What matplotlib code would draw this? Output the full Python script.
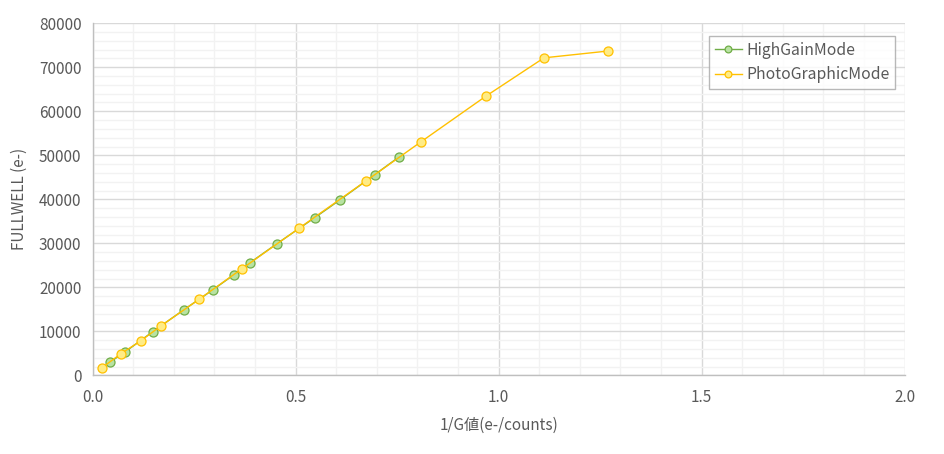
import matplotlib
matplotlib.use("Agg")
import matplotlib.pyplot as plt
from matplotlib.ticker import MultipleLocator, FormatStrFormatter

plt.rcParams['font.family'] = ['Noto Sans CJK JP', 'DejaVu Sans']

high_x = [0.043, 0.080, 0.148, 0.225, 0.296, 0.348, 0.388, 0.454, 0.547, 0.610, 0.695, 0.756]
high_y = [3000, 5300, 9900, 14900, 19400, 22850, 25600, 29900, 35800, 39900, 45600, 49700]
photo_x = [0.023, 0.069, 0.119, 0.168, 0.262, 0.367, 0.509, 0.673, 0.808, 0.969, 1.112, 1.270]
photo_y = [1700, 4850, 7850, 11200, 17250, 24150, 33450, 44150, 53000, 63450, 72150, 73700]
series_names = ["HighGainMode", "PhotoGraphicMode"]

txt = '#595959'
fig = plt.figure(figsize=(9.45, 4.54), dpi=100)
ax = fig.add_axes([0.0979, 0.1733, 0.8593, 0.7754])

ax.plot(high_x, high_y, color='#70ad47', lw=1.0, marker='o', ms=6.5,
        mfc='#b8e2a2', mec='#70ad47', mew=0.9, label=series_names[0], zorder=3)
ax.plot(photo_x, photo_y, color='#ffc000', lw=1.0, marker='o', ms=6.5,
        mfc='#ffec85', mec='#ffc000', mew=0.9, label=series_names[1], zorder=4)

ax.set_xlim(0, 2.0)
ax.set_ylim(0, 80000)
ax.xaxis.set_major_locator(MultipleLocator(0.5))
ax.xaxis.set_minor_locator(MultipleLocator(0.1))
ax.yaxis.set_major_locator(MultipleLocator(10000))
ax.yaxis.set_minor_locator(MultipleLocator(2000))
ax.xaxis.set_major_formatter(FormatStrFormatter('%.1f'))
ax.grid(which='major', color='#d9d9d9', lw=1.0, zorder=1)
ax.grid(which='minor', color='#f2f2f2', lw=1.0, zorder=0)
ax.set_axisbelow(True)
ax.tick_params(which='both', length=0, colors=txt, labelsize=11)
ax.tick_params(axis='x', pad=10)
ax.tick_params(axis='y', pad=8)
for s in ['top', 'right']:
    ax.spines[s].set_visible(False)
for s in ['left', 'bottom']:
    ax.spines[s].set_color('#bfbfbf')
    ax.spines[s].set_linewidth(1.0)

ax.set_xlabel('1/G値(e-/counts)', color=txt, fontsize=11, labelpad=8)
ax.set_ylabel('FULLWELL (e-)', color=txt, fontsize=11, labelpad=8)

leg = ax.legend(loc='upper right', bbox_to_anchor=(0.994, 0.977), frameon=True,
                fancybox=False, edgecolor='#a6a6a6', fontsize=11.3,
                handlelength=1.7, borderpad=0.35, labelspacing=0.5,
                handletextpad=0.3, markerscale=0.75, borderaxespad=0.3)
leg.get_frame().set_linewidth(1.0)
for t in leg.get_texts():
    t.set_color(txt)

fig.savefig('out.png', dpi=100, facecolor='white')
